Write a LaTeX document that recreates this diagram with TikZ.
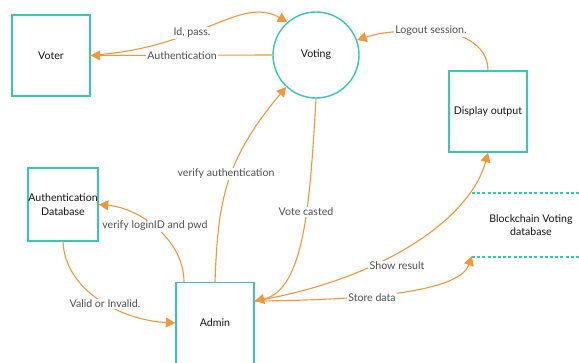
\documentclass[tikz,border=0pt]{standalone}
\usepackage{fontspec}
\setmainfont{Lato}
\usetikzlibrary{arrows.meta,calc}
\definecolor{tealc}{RGB}{52,201,177}
\definecolor{orangec}{RGB}{243,150,60}
\definecolor{labc}{RGB}{80,80,80}
\definecolor{txtc}{RGB}{20,20,20}
\tikzset{
  box/.style={draw=tealc,line width=1.4pt,fill=white,text=txtc,inner sep=0pt,align=center,font=\fontsize{10.6}{13.5}\selectfont},
  flow/.style={draw=orangec,line width=1.1pt,-{Triangle[length=9.5pt,width=10pt]}},
  lab/.style={fill=white,text=labc,inner sep=1.5pt,font=\fontsize{10.6}{13}\selectfont},
  dbline/.style={draw=tealc,line width=1.4pt,dash pattern=on 3pt off 2.2pt}
}
\begin{document}
\begin{tikzpicture}[x=1pt,y=-1pt]
\useasboundingbox (0,0) rectangle (579,362);
% nodes
\node[box,minimum width=78pt,minimum height=81pt] (voter) at (51,55.5) {Voter};
\node[box,circle,minimum size=86pt] (voting) at (316,55) {Voting};
\node[box,minimum width=78pt,minimum height=81pt] (display) at (488,111.5) {Display output};
\node[box,minimum width=70pt,minimum height=73pt] (authdb) at (63,204.5) {Authentication\\Database};
\node[box,minimum width=78pt,minimum height=84pt,anchor=north] (admin) at (215,282) {};
\node[text=txtc,font=\fontsize{10.6}{13.5}\selectfont] (admintxt) at (215,323) {Admin};
% blockchain datastore
\coordinate (bctl) at (472,193);
\coordinate (bctr) at (580,193);
\coordinate (bcbl) at (472,257);
\coordinate (bcbr) at (580,257);
\draw[dbline] (bctl) -- (bctr);
\draw[dbline] (bcbl) -- (bcbr);
\node[text=txtc,align=center,font=\fontsize{10.6}{13.5}\selectfont] (bc) at (531,225) {Blockchain Voting\\database};
% connectors
\coordinate (adminR) at ([yshift=-19pt]admin.north east);
\draw[flow] (voter.east) to[out=5,in=200] (192,33) to[out=20,in=150] (voting.131);
\node[lab] (lidp) at (192,33) {Id, pass.};
\draw[flow] (voting.west) -- (voter.east);
\node[lab] (lauth) at (182,56) {Authentication};
\draw[flow] (display.north) to[out=90,in=0] (431,31) to[out=180,in=18] (voting.20);
\node[lab] (llog) at (431,31) {Logout session.};
\draw[flow] (admin.north) .. controls (218,200) and (225,160) .. (voting.227);
\node[lab] (lva) at (226,174) {verify authentication};
\draw[flow] (voting.south) .. controls (310,200) and (305,290) .. (adminR);
\node[lab] (lvc) at (306,212) {Vote casted};
\draw[flow] (adminR) .. controls (380,280) and (470,220) .. (display.south);
\node[lab] (lsr) at (397,266) {Show result};
\draw[flow] (adminR) .. controls (380,300) and (460,290) .. ([yshift=1pt]bcbl);
\node[lab] (lsd) at (372,298) {Store data};
\draw[flow] ([xshift=-31pt]admin.north) .. controls (184,240) and (140,208) .. (authdb.east);
\node[lab] (lvl) at (155,226) {verify loginID and pwd};
\draw[flow] (authdb.south) .. controls (65,290) and (120,320) .. (admin.west |- admintxt);
\node[lab] (lvi) at (105,304) {Valid or Invalid.};
\end{tikzpicture}
\end{document}
